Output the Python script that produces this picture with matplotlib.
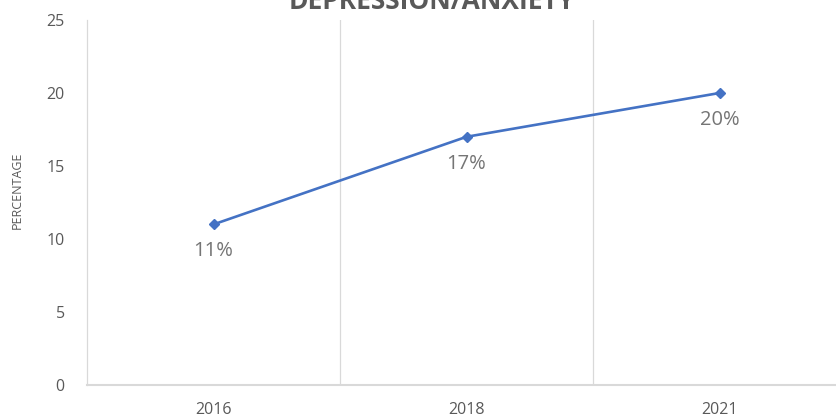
import matplotlib
matplotlib.use('Agg')
import matplotlib.pyplot as plt

############### Data ###############
years = ['2016', '2018', '2021']
percentages = [11, 17, 20]
point_labels = ['11%', '17%', '20%']

############### Plot ###############
plt.rcParams['font.family'] = ['Open Sans', 'DejaVu Sans']

fig = plt.figure(figsize=(8.36, 4.17), dpi=100)
ax = fig.add_axes([87 / 836, 32 / 417, 759 / 836, 365 / 417])

xs = list(range(len(years)))
ax.plot(xs, percentages, color='#4472C4', linewidth=1.9, marker='D', markersize=5)

for x, y, lab in zip(xs, percentages, point_labels):
    ax.annotate(lab, (x, y), xytext=(0, -27), textcoords='offset pixels',
                ha='center', va='center', fontsize=14.5, color='#757575')

ax.set_xlim(-0.5, len(years) - 0.5)
ax.set_ylim(0, 25)
ax.set_yticks([0, 5, 10, 15, 20, 25])
ax.set_xticks(xs)
ax.set_xticklabels(years)

# category boundary gridlines
for b in [0.5, 1.5]:
    ax.axvline(b, color='#d9d9d9', linewidth=0.9, zorder=0)

for side in ['top', 'right']:
    ax.spines[side].set_visible(False)
ax.spines['left'].set_color('#d9d9d9')
ax.spines['left'].set_linewidth(0.9)
ax.spines['bottom'].set_color('#d9d9d9')
ax.spines['bottom'].set_linewidth(1.5)

ax.tick_params(axis='both', length=0, colors='#595959')
ax.tick_params(axis='x', labelsize=11.5, pad=12)
ax.tick_params(axis='y', labelsize=11.5, pad=16)

fig.text(17 / 836, (417 - 190) / 417, 'PERCENTAGE', rotation=90, ha='center', va='center',
         fontsize=9, color='#595959')
# title sits partly above the top edge, as in the original
fig.text(432 / 836, 415.5 / 417, 'DEPRESSION/ANXIETY', ha='center', va='center',
         fontsize=19, fontweight='bold', color='#595959')

fig.savefig('out.png', dpi=100)
